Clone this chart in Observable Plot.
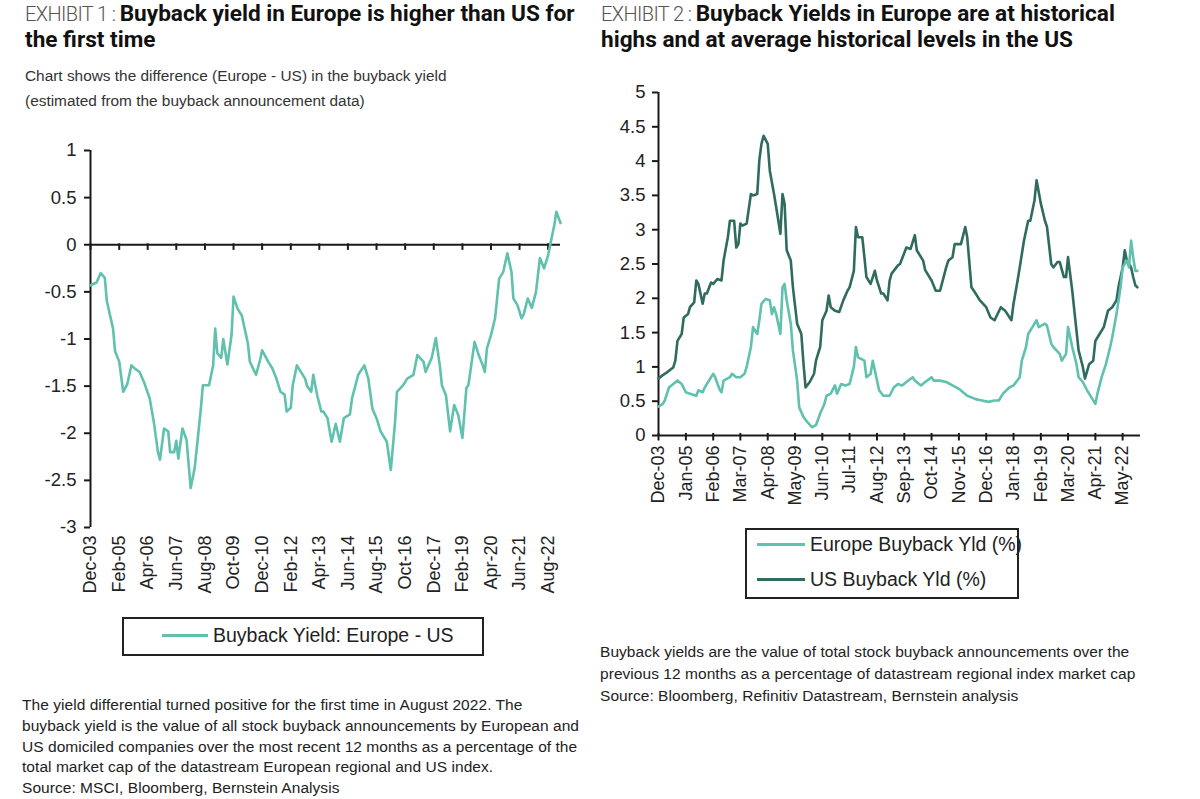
<!DOCTYPE html>
<html><head><meta charset="utf-8">
<script src="https://cdn.jsdelivr.net/npm/d3@7"></script>
<script src="https://cdn.jsdelivr.net/npm/@observablehq/plot@0.6"></script>
<style>
html,body{margin:0;padding:0;background:#fff;}
body{width:1200px;height:799px;overflow:hidden;position:relative;font-family:"Liberation Sans",Arial,sans-serif;color:#222;}
.abs{position:absolute;}
.title{font-family:Roboto,"Open Sans",sans-serif;font-size:22.6px;line-height:26px;font-weight:700;color:#111;white-space:nowrap;}
.title .ex{font-size:20px;font-weight:300;color:#555;letter-spacing:-0.6px;}
.sub{font-size:15.4px;line-height:25px;color:#333;white-space:nowrap;}
.note{font-size:15.5px;line-height:20.8px;color:#222;white-space:nowrap;letter-spacing:0.05px;}
.legend{border:2px solid #222;box-sizing:border-box;font-size:19.5px;color:#222;white-space:nowrap;}
.item{position:absolute;display:flex;align-items:center;}
.swatch{display:inline-block;height:3px;margin-right:5px;}
</style>
</head><body>
<div class="abs title" style="left:25px;top:1px;"><span class="ex">EXHIBIT 1 : </span> Buyback yield in Europe is higher than US for<br>the first time</div>
<div class="abs title" style="left:601px;top:1px;"><span class="ex">EXHIBIT 2 : </span> Buyback Yields in Europe are at historical<br>highs and at average historical levels in the US</div>
<div class="abs sub" style="left:25px;top:63px;">Chart shows the difference (Europe - US) in the buyback yield<br>(estimated from the buyback announcement data)</div>
<div id="left" class="abs" style="left:0;top:130px;"></div>
<div id="right" class="abs" style="left:600px;top:80px;"></div>
<div id="legL" class="abs legend" style="left:122px;top:617px;width:362px;height:39px;"></div>
<div id="legR" class="abs legend" style="left:745px;top:528px;width:274px;height:71px;overflow:visible;"></div>
<div class="abs note" style="left:22px;top:695px;">The yield differential turned positive for the first time in August 2022. The<br>buyback yield is the value of all stock buyback announcements by European and<br>US domiciled companies over the most recent 12 months as a percentage of the<br>total market cap of the datastream European regional and US index.<br>Source: MSCI, Bloomberg, Bernstein Analysis</div>
<div class="abs note" style="left:600px;top:641px;line-height:22px;">Buyback yields are the value of total stock buyback announcements over the<br>previous 12 months as a percentage of datastream regional index market cap<br>Source: Bloomberg, Refinitiv Datastream, Bernstein analysis</div>
<script>
// ---------- Exhibit 1: Europe - US buyback yield difference ----------
const diffDates = ["2003-12","2004-03","2004-05","2004-07","2004-08","2004-11","2004-12","2005-02","2005-04","2005-06","2005-08","2005-10","2005-12","2006-02","2006-05","2006-07","2006-09","2006-10","2006-12","2007-02","2007-03","2007-05","2007-06","2007-07","2007-09","2007-11","2008-01","2008-03","2008-04","2008-06","2008-07","2008-10","2008-12","2009-01","2009-02","2009-04","2009-05","2009-07","2009-09","2009-10","2009-12","2010-02","2010-05","2010-06","2010-09","2010-11","2010-12","2011-03","2011-05","2011-07","2011-09","2011-11","2011-12","2012-02","2012-03","2012-05","2012-09","2012-10","2012-12","2013-01","2013-03","2013-05","2013-06","2013-08","2013-10","2013-12","2014-02","2014-04","2014-07","2014-08","2014-11","2015-02","2015-04","2015-06","2015-08","2015-10","2016-01","2016-03","2016-05","2016-06","2016-09","2016-11","2017-02","2017-04","2017-07","2017-08","2017-11","2018-01","2018-03","2018-04","2018-06","2018-08","2018-10","2018-12","2019-02","2019-04","2019-05","2019-08","2019-10","2019-12","2020-01","2020-02","2020-04","2020-06","2020-08","2020-10","2020-12","2021-02","2021-03","2021-05","2021-07","2021-08","2021-10","2021-12","2022-02","2022-04","2022-06","2022-08","2022-09","2022-11","2022-12","2023-02"];
const diffValues = [-0.43,-0.40,-0.30,-0.35,-0.60,-0.89,-1.13,-1.24,-1.56,-1.48,-1.28,-1.32,-1.35,-1.45,-1.63,-1.88,-2.20,-2.28,-1.95,-1.98,-2.20,-2.20,-2.08,-2.27,-1.95,-2.07,-2.58,-2.37,-2.16,-1.74,-1.49,-1.49,-1.28,-0.89,-1.15,-1.20,-1.00,-1.27,-0.96,-0.55,-0.68,-0.75,-1.04,-1.24,-1.38,-1.22,-1.12,-1.24,-1.31,-1.42,-1.56,-1.59,-1.77,-1.73,-1.49,-1.28,-1.42,-1.50,-1.56,-1.38,-1.60,-1.77,-1.77,-1.84,-2.09,-1.90,-2.09,-1.84,-1.80,-1.63,-1.38,-1.28,-1.42,-1.74,-1.84,-1.98,-2.09,-2.39,-1.90,-1.56,-1.49,-1.42,-1.38,-1.17,-1.24,-1.35,-1.20,-0.99,-1.28,-1.49,-1.60,-1.98,-1.70,-1.81,-2.05,-1.52,-1.49,-1.03,-1.17,-1.28,-1.35,-1.10,-0.96,-0.78,-0.36,-0.29,-0.09,-0.29,-0.57,-0.64,-0.78,-0.74,-0.57,-0.67,-0.50,-0.14,-0.25,-0.11,0.00,0.21,0.35,0.23];
const leftTickLabels = ["Dec-03","Feb-05","Apr-06","Jun-07","Aug-08","Oct-09","Dec-10","Feb-12","Apr-13","Jun-14","Aug-15","Oct-16","Dec-17","Feb-19","Apr-20","Jun-21","Aug-22"];
const leftYTicks = [1,0.5,0,-0.5,-1,-1.5,-2,-2.5,-3];
const leftSeriesName = "Buyback Yield: Europe - US";

// ---------- Exhibit 2: Europe and US buyback yields ----------
const usDates = ["2003-12","2004-02","2004-04","2004-07","2004-08","2004-09","2004-11","2004-12","2005-02","2005-03","2005-05","2005-06","2005-07","2005-09","2005-10","2005-11","2006-01","2006-02","2006-04","2006-06","2006-07","2006-09","2006-10","2006-12","2007-01","2007-02","2007-03","2007-04","2007-06","2007-08","2007-09","2007-11","2007-12","2008-01","2008-02","2008-04","2008-05","2008-07","2008-08","2008-10","2008-11","2008-12","2009-01","2009-03","2009-04","2009-06","2009-08","2009-09","2009-10","2009-12","2010-02","2010-03","2010-05","2010-06","2010-08","2010-09","2010-10","2010-12","2011-02","2011-04","2011-06","2011-07","2011-09","2011-10","2011-11","2012-01","2012-02","2012-03","2012-05","2012-07","2012-08","2012-10","2012-11","2013-01","2013-02","2013-03","2013-06","2013-07","2013-10","2013-12","2014-02","2014-03","2014-06","2014-07","2014-10","2014-12","2015-02","2015-05","2015-06","2015-08","2015-09","2015-12","2016-02","2016-03","2016-05","2016-07","2016-09","2016-12","2017-02","2017-04","2017-07","2017-09","2017-12","2018-01","2018-03","2018-04","2018-06","2018-08","2018-09","2018-11","2018-12","2019-02","2019-04","2019-05","2019-07","2019-08","2019-10","2019-11","2020-01","2020-02","2020-03","2020-05","2020-07","2020-08","2020-10","2020-11","2021-01","2021-03","2021-04","2021-06","2021-08","2021-10","2021-12","2022-02","2022-03","2022-05","2022-06","2022-07","2022-09","2022-10","2022-11","2022-12"];
const usValues = [0.83,0.88,0.92,0.99,1.09,1.38,1.48,1.72,1.77,1.87,1.94,2.26,2.21,1.92,2.07,2.07,2.23,2.21,2.28,2.26,2.55,2.89,3.13,3.13,2.74,2.79,3.09,3.06,3.09,3.52,3.50,3.52,4.01,4.25,4.37,4.25,3.86,3.52,3.33,2.94,3.52,3.38,2.70,2.55,2.16,1.63,1.48,1.05,0.70,0.78,0.90,1.09,1.29,1.68,1.82,2.04,1.87,1.82,1.80,1.97,2.11,2.16,2.40,3.04,2.89,2.89,2.60,2.31,2.21,2.40,2.26,2.07,2.07,1.97,2.26,2.36,2.48,2.50,2.74,2.72,2.92,2.70,2.55,2.41,2.26,2.11,2.11,2.45,2.55,2.60,2.79,2.79,3.04,2.89,2.16,2.07,1.97,1.87,1.72,1.68,1.87,1.82,1.68,1.92,2.26,2.45,2.84,3.13,3.13,3.43,3.72,3.38,3.13,3.04,2.50,2.45,2.53,2.53,2.31,2.31,2.60,2.11,1.53,1.24,1.00,0.83,1.04,1.09,1.38,1.48,1.58,1.82,1.87,1.97,2.16,2.45,2.70,2.55,2.45,2.31,2.19,2.16];
const euDates = ["2003-12","2004-02","2004-03","2004-05","2004-07","2004-09","2004-11","2005-01","2005-03","2005-06","2005-07","2005-09","2005-10","2005-12","2006-02","2006-03","2006-05","2006-06","2006-07","2006-10","2006-11","2007-01","2007-03","2007-05","2007-06","2007-08","2007-09","2007-11","2007-12","2008-01","2008-03","2008-05","2008-06","2008-07","2008-08","2008-10","2008-11","2008-12","2009-01","2009-03","2009-04","2009-06","2009-07","2009-09","2009-11","2010-01","2010-03","2010-05","2010-07","2010-08","2010-10","2010-12","2011-01","2011-03","2011-05","2011-07","2011-09","2011-10","2011-11","2012-02","2012-03","2012-05","2012-06","2012-07","2012-09","2012-11","2013-02","2013-04","2013-06","2013-08","2013-10","2014-01","2014-02","2014-05","2014-07","2014-10","2014-11","2015-02","2015-05","2015-08","2015-11","2016-03","2016-07","2016-10","2017-01","2017-04","2017-06","2017-08","2017-11","2018-01","2018-04","2018-05","2018-07","2018-08","2018-10","2018-12","2019-01","2019-04","2019-05","2019-07","2019-08","2019-11","2019-12","2020-02","2020-03","2020-05","2020-07","2020-08","2020-10","2020-12","2021-02","2021-04","2021-05","2021-07","2021-09","2021-11","2021-12","2022-02","2022-04","2022-05","2022-07","2022-08","2022-09","2022-10","2022-11","2022-12"];
const euValues = [0.42,0.46,0.51,0.70,0.75,0.80,0.75,0.63,0.61,0.58,0.66,0.63,0.70,0.80,0.90,0.85,0.68,0.63,0.80,0.85,0.90,0.85,0.85,0.90,1.00,1.29,1.58,1.48,1.68,1.92,1.99,1.97,1.77,1.87,1.77,1.48,2.16,2.21,1.97,1.63,1.24,0.80,0.41,0.27,0.19,0.12,0.15,0.32,0.46,0.58,0.61,0.73,0.61,0.75,0.73,0.75,1.00,1.29,1.14,1.09,0.85,0.90,1.09,0.95,0.66,0.58,0.58,0.70,0.75,0.73,0.78,0.85,0.80,0.73,0.78,0.85,0.80,0.80,0.78,0.73,0.68,0.58,0.53,0.51,0.49,0.51,0.51,0.61,0.70,0.73,0.85,1.09,1.29,1.48,1.58,1.68,1.58,1.63,1.60,1.34,1.29,1.19,1.09,1.19,1.58,1.29,1.04,0.85,0.78,0.66,0.56,0.46,0.61,0.85,1.04,1.29,1.43,1.77,2.16,2.45,2.55,2.45,2.84,2.60,2.40,2.40];
const rightTickLabels = ["Dec-03","Jan-05","Feb-06","Mar-07","Apr-08","May-09","Jun-10","Jul-11","Aug-12","Sep-13","Oct-14","Nov-15","Dec-16","Jan-18","Feb-19","Mar-20","Apr-21","May-22"];
const rightYTicks = [0,0.5,1,1.5,2,2.5,3,3.5,4,4.5,5];
const seriesNames = ["Europe Buyback Yld (%)","US Buyback Yld (%)"];

const colorEU = "#5fc1ae", colorUS = "#2f6b5f", colorDiff = "#5fc1ae", axisColor = "#1a1a1a";
const parseM = d3.utcParse("%Y-%m");
const parseTick = d3.utcParse("%b-%y");
const fmtTick = d3.utcFormat("%b-%y");
const toRows = (ds, vs) => ds.map((d, i) => ({date: parseM(d), value: vs[i]}));

const diffData = toRows(diffDates, diffValues);
const usData = toRows(usDates, usValues);
const euData = toRows(euDates, euValues);
const leftTicks = leftTickLabels.map(parseTick);
const rightTicks = rightTickLabels.map(parseTick);

const baseStyle = {fontFamily: "'Liberation Sans', Arial, sans-serif", fontSize: "18px", color: "#222", background: "transparent", overflow: "visible"};

const left = Plot.plot({
  width: 590, height: 490,
  marginLeft: 90, marginRight: 30, marginTop: 20, marginBottom: 93,
  style: baseStyle,
  x: {type: "utc", domain: [parseM("2003-12"), parseM("2023-02")]},
  y: {domain: [-3, 1]},
  marks: [
    Plot.axisY({ticks: leftYTicks, tickFormat: d => String(d), tickSize: 6, tickPadding: 8, strokeWidth: 2, stroke: axisColor, label: null, fontSize: 18.5}),
    Plot.axisX({ticks: leftTicks, tickFormat: fmtTick, tickRotate: -90, tickSize: 0, tickPadding: 8, label: null, fontSize: 18}),
    Plot.ruleX([parseM("2003-12")], {y1: -3, y2: 1, stroke: axisColor, strokeWidth: 2}),
    Plot.ruleY([0], {stroke: axisColor, strokeWidth: 2}),
    Plot.ruleX(leftTicks, {x: d => d, y1: 0.01, y2: -0.06, stroke: axisColor, strokeWidth: 2}),
    Plot.lineY(diffData, {x: "date", y: "value", stroke: colorDiff, strokeWidth: 2.6})
  ]
});
document.getElementById("left").appendChild(left);

const right = Plot.plot({
  width: 560, height: 440,
  marginLeft: 58, marginRight: 20, marginTop: 12, marginBottom: 85,
  style: baseStyle,
  x: {type: "utc", domain: [parseM("2003-12"), new Date(Date.UTC(2023, 0, 15))]},
  y: {domain: [0, 5]},
  marks: [
    Plot.axisY({ticks: rightYTicks, tickFormat: d => String(d), tickSize: 6, tickPadding: 7, strokeWidth: 2, stroke: axisColor, label: null, fontSize: 18.5}),
    Plot.axisX({ticks: rightTicks, tickFormat: fmtTick, tickRotate: -90, tickSize: 0, tickPadding: 10, label: null, fontSize: 18}),
    Plot.ruleX([parseM("2003-12")], {y1: 0, y2: 5, stroke: axisColor, strokeWidth: 2}),
    Plot.ruleY([0], {stroke: axisColor, strokeWidth: 2}),
    Plot.ruleX(rightTicks, {x: d => d, y1: 0.03, y2: -0.08, stroke: axisColor, strokeWidth: 2}),
    Plot.lineY(usData, {x: "date", y: "value", stroke: colorUS, strokeWidth: 2.6}),
    Plot.lineY(euData, {x: "date", y: "value", stroke: colorEU, strokeWidth: 2.6})
  ]
});
document.getElementById("right").appendChild(right);

// legends
function legendItem(parent, name, color, x, y, w) {
  const it = document.createElement("div");
  it.className = "item";
  it.style.left = x + "px"; it.style.top = y + "px";
  it.innerHTML = `<span class="swatch" style="width:${w}px;background:${color}"></span><span>${name}</span>`;
  parent.appendChild(it);
}
legendItem(document.getElementById("legL"), leftSeriesName, colorDiff, 38, 5, 46);
legendItem(document.getElementById("legR"), seriesNames[0], colorEU, 10, 3, 48);
legendItem(document.getElementById("legR"), seriesNames[1], colorUS, 10, 38, 48);
</script>
</body></html>
